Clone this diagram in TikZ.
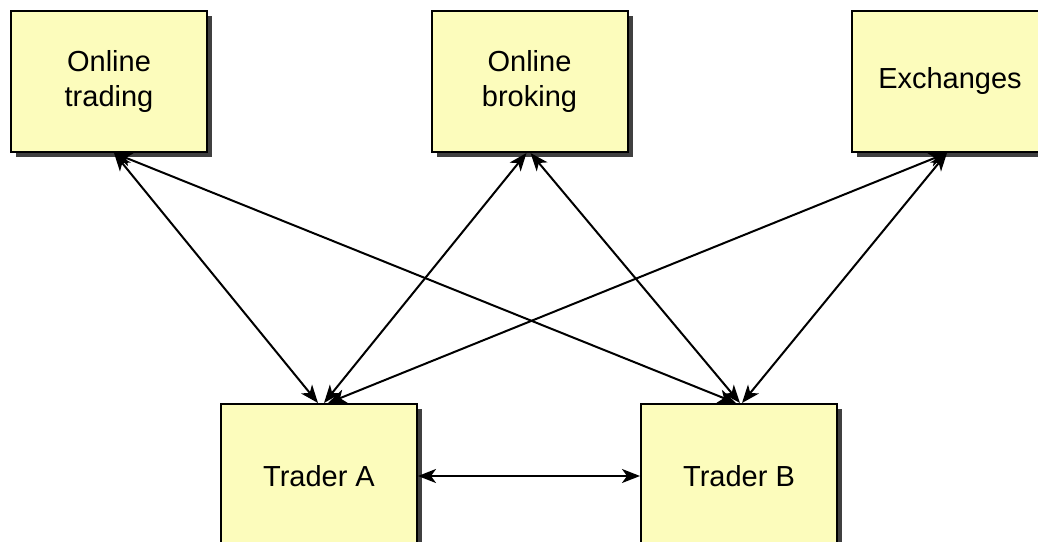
\documentclass[tikz,border=0pt]{standalone}
\usepackage{fontspec}
\setmainfont{Liberation Sans}
\usetikzlibrary{arrows.meta,shadows}
\definecolor{boxfill}{RGB}{252,252,188}
\definecolor{shadowgray}{RGB}{64,64,64}
\tikzset{
  box/.style={draw=black, line width=2pt, fill=boxfill, minimum width=196pt, minimum height=141pt,
    align=center, inner sep=0pt, font=\fontsize{29}{35.5}\selectfont,
    drop shadow={shadow xshift=5pt, shadow yshift=-5pt, fill=shadowgray, opacity=1}},
  tallbox/.style={box, minimum height=144pt},
  link/.style={line width=2pt, {Stealth[length=18pt,width=14pt,inset=5pt]}-{Stealth[length=18pt,width=14pt,inset=5pt]}}
}
\begin{document}
\begin{tikzpicture}[x=1pt,y=-1pt]
\clip (0,0) rectangle (1038,541);
\fill[white] (0,0) rectangle (1038,541);
\node[box] (ot) at (109,81.5) {Online\\trading};
\node[box] (ob) at (529.5,81.5) {Online\\broking};
\node[box] (ex) at (950,81.5) {Exchanges};
\node[tallbox] (ta) at (319,476) {Trader A};
\node[tallbox] (tb) at (739,476) {Trader B};
\draw[link] ([xshift=5pt]ot.south) -- ([xshift=-1pt]ta.north);
\draw[link] ([xshift=5pt]ot.south) -- ([xshift=-3pt]tb.north);
\draw[link] ([xshift=-3pt]ob.south) -- ([xshift=5pt]ta.north);
\draw[link] ([xshift=1pt]ob.south) -- ([xshift=1pt]tb.north);
\draw[link] ([xshift=-3pt]ex.south) -- ([xshift=9pt]ta.north);
\draw[link] ([xshift=-3pt]ex.south) -- ([xshift=3pt]tb.north);
\draw[link] (ta.east) -- (tb.west);
\end{tikzpicture}
\end{document}
